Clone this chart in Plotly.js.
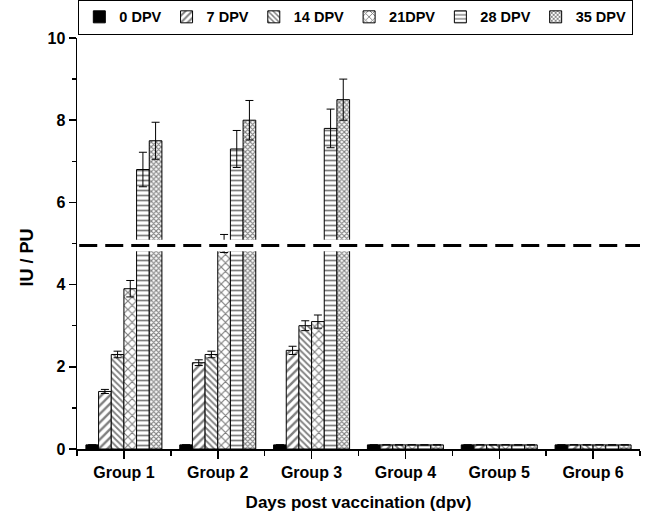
<!DOCTYPE html>
<html>
<head>
<meta charset="utf-8">
<script src="https://cdn.plot.ly/plotly-3.0.1.min.js"></script>
<style>html,body{margin:0;padding:0;background:#fff;}#chart{width:663px;height:516px;}</style>
</head>
<body>
<div id="chart"></div>
<script>
const categories = ["Group 1", "Group 2", "Group 3", "Group 4", "Group 5", "Group 6"];
const seriesNames = ["0 DPV", "7 DPV", "14 DPV", "21DPV", "28 DPV", "35 DPV"];
const dpv0  = [0.1, 0.1, 0.1, 0.1, 0.1, 0.1];
const dpv7  = [1.4, 2.1, 2.4, 0.1, 0.1, 0.1];
const dpv14 = [2.3, 2.3, 3.0, 0.1, 0.1, 0.1];
const dpv21 = [3.9, 5.0, 3.1, 0.1, 0.1, 0.1];
const dpv28 = [6.8, 7.3, 7.8, 0.1, 0.1, 0.1];
const dpv35 = [7.5, 8.0, 8.5, 0.1, 0.1, 0.1];
const err0  = [0, 0, 0, 0, 0, 0];
const err7  = [0.05, 0.07, 0.1, 0, 0, 0];
const err14 = [0.08, 0.08, 0.12, 0, 0, 0];
const err21 = [0.2, 0.22, 0.16, 0, 0, 0];
const err28 = [0.42, 0.45, 0.47, 0, 0, 0];
const err35 = [0.45, 0.48, 0.5, 0, 0, 0];
const thresholdLine = 4.95;
const yTickVals = [0, 2, 4, 6, 8, 10];
const yTitle = "IU / PU";
const xTitle = "Days post vaccination (dpv)";

const values = [dpv0, dpv7, dpv14, dpv21, dpv28, dpv35];
const errors = [err0, err7, err14, err21, err28, err35];
const patterns = [
  {shape: ""},
  {shape: "/", size: 6, solidity: 0.4},
  {shape: "\\", size: 4.5, solidity: 0.4},
  {shape: "x", size: 6, solidity: 0.35},
  {shape: "-", size: 5, solidity: 0.35},
  {shape: "x", size: 3.5, solidity: 0.55}
];
const xIdx = categories.map((_, i) => i);
const fontFam = "Arial, 'Liberation Sans', sans-serif";

const traces = seriesNames.map((name, k) => {
  const p = patterns[k];
  const marker = {
    color: k === 0 ? "#000" : "#fff",
    line: {color: "#000", width: 1}
  };
  if (p.shape) {
    marker.pattern = {shape: p.shape, fgcolor: "#000", bgcolor: "#fff", size: p.size, solidity: p.solidity, fillmode: "overlay"};
  }
  return {
    type: "bar",
    name: name,
    x: xIdx,
    y: values[k],
    marker: marker,
    error_y: {type: "data", array: errors[k], visible: true, color: "#000", thickness: 1, width: 4},
    hoverinfo: "skip"
  };
});

const layout = {
  width: 663, height: 516,
  margin: {l: 77, r: 23, t: 38, b: 67, autoexpand: false},
  paper_bgcolor: "#fff", plot_bgcolor: "#fff",
  font: {family: fontFam, color: "#000", size: 14},
  barmode: "group",
  bargap: 0.19,
  bargroupgap: 0,
  showlegend: true,
  legend: {
    orientation: "h", x: 0.002, xanchor: "left", y: 1.008, yanchor: "bottom",
    bordercolor: "#000", borderwidth: 1.2, bgcolor: "#fff",
    font: {family: fontFam, size: 14.5, weight: "bold", color: "#000"},
    itemwidth: 30, tracegroupgap: 0, traceorder: "normal"
  },
  xaxis: {
    range: [-0.5, 5.5],
    tickmode: "array", tickvals: xIdx, ticktext: categories,
    ticks: "outside", ticklen: 8, tickwidth: 1.5, tickcolor: "#000",
    minor: {tickmode: "linear", tick0: -0.5, dtick: 1, ticks: "outside", ticklen: 5, tickwidth: 1.5, tickcolor: "#000"},
    showline: true, linecolor: "#000", linewidth: 1.5,
    showgrid: false, zeroline: false,
    tickfont: {family: fontFam, size: 16, weight: "bold"},
    title: {text: xTitle, font: {family: fontFam, size: 17, weight: "bold"}, standoff: 16}
  },
  yaxis: {
    range: [0, 10],
    tickmode: "array", tickvals: yTickVals,
    ticks: "outside", ticklen: 7, tickwidth: 1.5, tickcolor: "#000",
    minor: {tickmode: "linear", tick0: 1, dtick: 2, ticks: "outside", ticklen: 4, tickwidth: 1.5, tickcolor: "#000"},
    showline: true, linecolor: "#000", linewidth: 1.5,
    showgrid: false, zeroline: false,
    tickfont: {family: fontFam, size: 16, weight: "bold"},
    title: {text: ""}
  },
  annotations: [
    {text: yTitle, xref: "paper", yref: "paper", x: -0.088, y: 0.467, xanchor: "center", yanchor: "middle",
     textangle: -90, showarrow: false, font: {family: fontFam, size: 18, weight: "bold", color: "#000"}}
  ],
  shapes: [
    {type: "rect", xref: "paper", yref: "y", x0: 0.004, x1: 1, y0: thresholdLine - 0.14, y1: thresholdLine + 0.14,
     fillcolor: "#fff", line: {width: 0}, layer: "above"},
    {type: "line", xref: "paper", yref: "y", x0: 0.004, x1: 1, y0: thresholdLine, y1: thresholdLine,
     line: {color: "#000", width: 3, dash: "18px,8px"}, layer: "above"}
  ]
};

Plotly.newPlot("chart", traces, layout, {displayModeBar: false, staticPlot: true});
</script>
</body>
</html>
